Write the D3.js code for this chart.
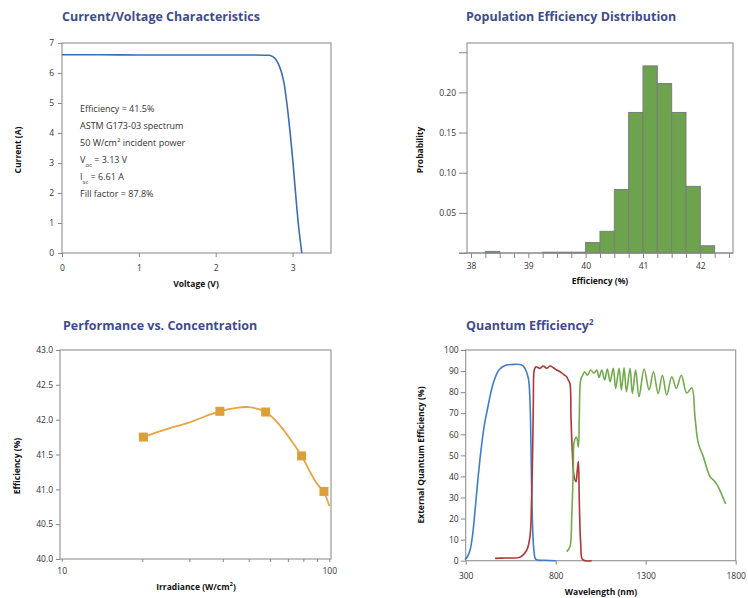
<!DOCTYPE html>
<html lang="en">
<head>
<meta charset="utf-8">
<script src="https://d3js.org/d3.v7.min.js"></script>
<style>
  body { margin: 0; background: #fff; }
  svg text { font-family: "Open Sans", "Noto Sans", sans-serif; }
  .title { font-size: 12.5px; font-weight: 700; fill: #3f4c8c; }
  .axis-label { font-size: 8.5px; font-weight: 700; fill: #111; }
  .tick text { font-size: 8.5px; fill: #333; }
  .tick line { stroke: #888; }
  .note { font-size: 9px; fill: #333; }
</style>
</head>
<body>
<svg id="chart" width="748" height="598"></svg>
<script>
// ---- Current / voltage
var ivVoltage = [0, 0.5, 1.0, 1.5, 2.0, 2.5, 2.70, 2.77, 2.83, 2.88, 2.92, 2.96, 3.01, 3.05, 3.08, 3.12];
var ivCurrent = [6.61, 6.61, 6.60, 6.60, 6.60, 6.60, 6.59, 6.49, 6.21, 5.77, 5.10, 4.21, 2.88, 1.66, 0.85, 0];
var ivNotes = ["Efficiency = 41.5%", "ASTM G173-03 spectrum", "50 W/cm|2| incident power",
               "V_oc_ = 3.13 V", "I_sc_ = 6.61 A", "Fill factor = 87.8%"];

// ---- Efficiency histogram (bin width 0.25)
var binStart = [38.25, 39.25, 39.5, 39.75, 40.0, 40.25, 40.5, 40.75, 41.0, 41.25, 41.5, 41.75, 42.0];
var binProb  = [0.002, 0.001, 0.001, 0.001, 0.013, 0.027, 0.079, 0.175, 0.233, 0.211, 0.175, 0.083, 0.009];

// ---- Performance vs concentration
var irradiance = [20.2, 39.0, 57.8, 78.8, 95.5];
var concEff    = [41.75, 42.12, 42.11, 41.48, 40.97];
var fitIrr = [20.2, 25, 30, 35, 39.0, 45, 50, 57.8, 65, 70, 78.8, 85, 90, 95.5, 100];
var fitEff = [41.75, 41.87, 41.96, 42.06, 42.12, 42.17, 42.18, 42.11, 41.93, 41.77, 41.48, 41.24, 41.08, 40.96, 40.76];

// ---- Quantum efficiency
var qeTopNm  = [296, 310, 324, 338, 352, 365, 379, 393, 407, 421, 435, 449, 463, 477, 490, 510, 528, 570, 611, 629, 648, 657, 663, 670, 679, 690, 740, 800];
var qeTopVal = [0.5, 2, 5, 12, 24, 36, 48, 58, 66, 72, 78, 83, 86.7, 89.5, 91, 92.3, 92.9, 93.2, 92.9, 91.3, 86.6, 76, 52.5, 21, 5, 0.6, 0.2, 0];
var qeMidNm  = [463, 520, 602, 639, 657, 666, 672, 676, 681, 690, 713, 731, 750, 768, 787, 805, 824, 842, 861, 870, 879, 885, 892, 902, 913, 920, 926, 931, 939, 950, 1000];
var qeMidVal = [1.1, 1.3, 1.7, 5, 11.4, 29, 52.5, 76, 90.5, 92, 91.3, 92.4, 91.3, 92.4, 91.6, 90.5, 89.7, 88.5, 87.3, 85.7, 84.2, 68, 52.5, 40, 37.5, 43, 47, 28.8, 8, 0.5, 0];
var qeBotNm  = [861, 879, 889, 898, 903, 916, 926, 931, 939, 950, 961, 976, 994, 1013, 1028, 1041, 1056, 1072, 1087, 1102, 1120, 1133, 1152, 1165, 1180, 1193, 1213, 1226, 1244, 1263, 1291, 1319, 1343, 1369, 1393, 1417, 1445, 1470, 1498, 1528, 1556, 1574, 1592, 1620, 1657, 1685, 1703, 1744];
var qeBotVal = [4.3, 6.6, 21, 44.6, 56.5, 58.6, 54, 68, 85.8, 88.1, 89.7, 88, 90.5, 89, 90.5, 87, 90.5, 85.8, 91, 85, 91.3, 81.8, 91.3, 81, 91.6, 80.2, 91.3, 79.4, 90.5, 77.8, 91, 81, 89.7, 79.4, 88, 78.6, 87.3, 81.8, 88, 79.6, 82, 68, 55.8, 49.4, 40, 37.5, 35, 26.9];

var svg = d3.select("#chart");

function frame(g, x0, y0, x1, y1) {
  g.append("rect")
    .attr("x", x0).attr("y", y0)
    .attr("width", x1 - x0).attr("height", y1 - y0)
    .attr("fill", "none").attr("stroke", "#999").attr("stroke-width", 1.2);
}

function title(x, y, txt, sup) {
  var t = svg.append("text").attr("class", "title").attr("x", x).attr("y", y).text(txt);
  if (sup) t.append("tspan").attr("font-size", "8px").attr("baseline-shift", "super").text(sup);
}

function yLabel(x, y, txt) {
  return svg.append("text").attr("class", "axis-label")
    .attr("transform", "translate(" + x + "," + y + ") rotate(-90)")
    .attr("text-anchor", "middle").attr("dominant-baseline", "middle").text(txt);
}

function xLabel(x, y, txt) {
  return svg.append("text").attr("class", "axis-label")
    .attr("x", x).attr("y", y)
    .attr("text-anchor", "middle").attr("dominant-baseline", "middle").text(txt);
}

function cleanAxis(g) {
  g.select(".domain").remove();
}

// ================= Panel 1: I-V =================
(function() {
  var x = d3.scaleLinear().domain([0, 3.5]).range([62, 331]);
  var y = d3.scaleLinear().domain([0, 7]).range([253, 43]);
  frame(svg, 62, 43, 331, 253);

  svg.append("g").attr("transform", "translate(62,0)")
    .call(d3.axisLeft(y).tickValues(d3.range(0, 8)).tickSize(4).tickPadding(4).tickFormat(d3.format("d")))
    .call(cleanAxis);
  svg.append("g").attr("transform", "translate(0,253)")
    .call(d3.axisBottom(x).tickValues([0, 1, 2, 3]).tickSize(4).tickPadding(8).tickFormat(d3.format("d")))
    .call(cleanAxis);

  var pts = ivVoltage.map(function(v, i) { return [v, ivCurrent[i]]; });
  svg.append("path").datum(pts)
    .attr("d", d3.line().x(d => x(d[0])).y(d => y(d[1])).curve(d3.curveMonotoneY))
    .attr("fill", "none").attr("stroke", "#3c6db2").attr("stroke-width", 1.6);

  var note = svg.append("g");
  ivNotes.forEach(function(s, i) {
    var t = note.append("text").attr("class", "note").attr("x", 80).attr("y", 112 + i * 17);
    // "|x|" marks superscript, "_x_" marks subscript
    var parts = s.split(/(\|[^|]+\||_[^_]+_)/);
    parts.forEach(function(p) {
      if (!p) return;
      if (p[0] === "|") {
        t.append("tspan").attr("font-size", "6px").attr("baseline-shift", "super").text(p.slice(1, -1));
      } else if (p[0] === "_") {
        t.append("tspan").attr("font-size", "6px").attr("baseline-shift", "sub").text(p.slice(1, -1));
      } else {
        t.append("tspan").text(p);
      }
    });
  });

  title(62, 21, "Current/Voltage Characteristics");
  yLabel(19, 150, "Current (A)");
  xLabel(196, 285, "Voltage (V)");
})();

// ================= Panel 2: histogram =================
(function() {
  var x = d3.scaleLinear().domain([37.93, 42.57]).range([467, 733]);
  var y = d3.scaleLinear().domain([0, 0.2615]).range([253, 43]);
  frame(svg, 467, 43, 733, 253);

  svg.selectAll(".bin").data(binStart).enter().append("rect")
    .attr("class", "bin")
    .attr("x", d => x(d))
    .attr("width", d => x(d + 0.25) - x(d))
    .attr("y", (d, i) => y(binProb[i]))
    .attr("height", (d, i) => y(0) - y(binProb[i]))
    .attr("fill", "#6ca34c").attr("stroke", "#7d7d7d").attr("stroke-width", 1);

  svg.append("g").attr("transform", "translate(467,0)")
    .call(d3.axisLeft(y).tickValues([0, 0.05, 0.10, 0.15, 0.20, 0.25]).tickSize(8).tickPadding(3)
      .tickFormat(d => (d === 0 || d > 0.24) ? "" : d3.format(".2f")(d)))
    .call(cleanAxis);
  svg.append("line").attr("x1", 459).attr("x2", 733).attr("y1", 253).attr("y2", 253)
    .attr("stroke", "#888").attr("stroke-width", 1.2);
  svg.append("g").attr("transform", "translate(0,253)")
    .call(d3.axisBottom(x).tickValues(d3.range(38, 42.51, 0.25)).tickSize(5).tickPadding(5)
      .tickFormat(d => Number.isInteger(d) ? d : ""))
    .call(cleanAxis);

  title(466, 21, "Population Efficiency Distribution");
  yLabel(421, 150, "Probability");
  xLabel(600, 282, "Efficiency (%)");
})();

// ================= Panel 3: concentration =================
(function() {
  var x = d3.scaleLog().domain([10, 100]).range([61.7, 329.3]);
  var y = d3.scaleLinear().domain([40, 43]).range([559, 350]);
  frame(svg, 60, 350, 331, 559);

  svg.append("g").attr("transform", "translate(60,0)")
    .call(d3.axisLeft(y).tickValues(d3.range(40, 43.01, 0.5)).tickSize(4).tickPadding(3).tickFormat(d3.format(".1f")))
    .call(cleanAxis);
  svg.append("g").attr("transform", "translate(0,559)")
    .call(d3.axisBottom(x).tickValues(d3.range(10, 101, 10)).tickSize(3).tickPadding(6)
      .tickFormat(d => (d === 10 || d === 100) ? d : ""))
    .call(cleanAxis);

  var fit = fitIrr.map((v, i) => [v, fitEff[i]]);
  svg.append("path").datum(fit)
    .attr("d", d3.line().x(d => x(d[0])).y(d => y(d[1])).curve(d3.curveCatmullRom))
    .attr("fill", "none").attr("stroke", "#e6a53f").attr("stroke-width", 1.8);

  svg.selectAll(".mk").data(irradiance).enter().append("rect")
    .attr("class", "mk")
    .attr("x", d => x(d) - 4.5).attr("y", (d, i) => y(concEff[i]) - 4.5)
    .attr("width", 9).attr("height", 9)
    .attr("fill", "#dca03a");

  title(63, 330, "Performance vs. Concentration");
  yLabel(18, 466, "Efficiency (%)");
  var xl = xLabel(196, 588, "Irradiance (W/cm");
  xl.append("tspan").attr("font-size", "6px").attr("baseline-shift", "super").text("2");
  xl.append("tspan").text(")");
})();

// ================= Panel 4: quantum efficiency =================
(function() {
  var x = d3.scaleLinear().domain([300, 1800]).range([465.7, 735.7]);
  var y = d3.scaleLinear().domain([0, 100]).range([560.7, 350]);
  frame(svg, 465.7, 350, 735.7, 560.7);

  svg.append("g").attr("transform", "translate(465.7,0)")
    .call(d3.axisLeft(y).tickValues(d3.range(0, 101, 10)).tickSize(5).tickPadding(2))
    .call(cleanAxis);
  svg.append("g").attr("transform", "translate(0,560.7)")
    .call(d3.axisBottom(x).tickValues([300, 800, 1300, 1800]).tickSize(4).tickPadding(8).tickFormat(d3.format("d")))
    .call(cleanAxis);

  var line = d3.line().x(d => x(d[0])).y(d => y(d[1])).curve(d3.curveCatmullRom);
  [[qeTopNm, qeTopVal, "#3f7dcc"], [qeMidNm, qeMidVal, "#ae3636"], [qeBotNm, qeBotVal, "#72ab4c"]]
    .forEach(function(s) {
      svg.append("path").datum(s[0].map((v, i) => [v, s[1][i]]))
        .attr("d", line).attr("fill", "none").attr("stroke", s[2]).attr("stroke-width", 1.6);
    });

  title(466, 330, "Quantum Efficiency", "2");
  yLabel(422, 455, "External Quantum Efficiency (%)");
  xLabel(601, 593, "Wavelength (nm)");
})();
</script>
</body>
</html>
